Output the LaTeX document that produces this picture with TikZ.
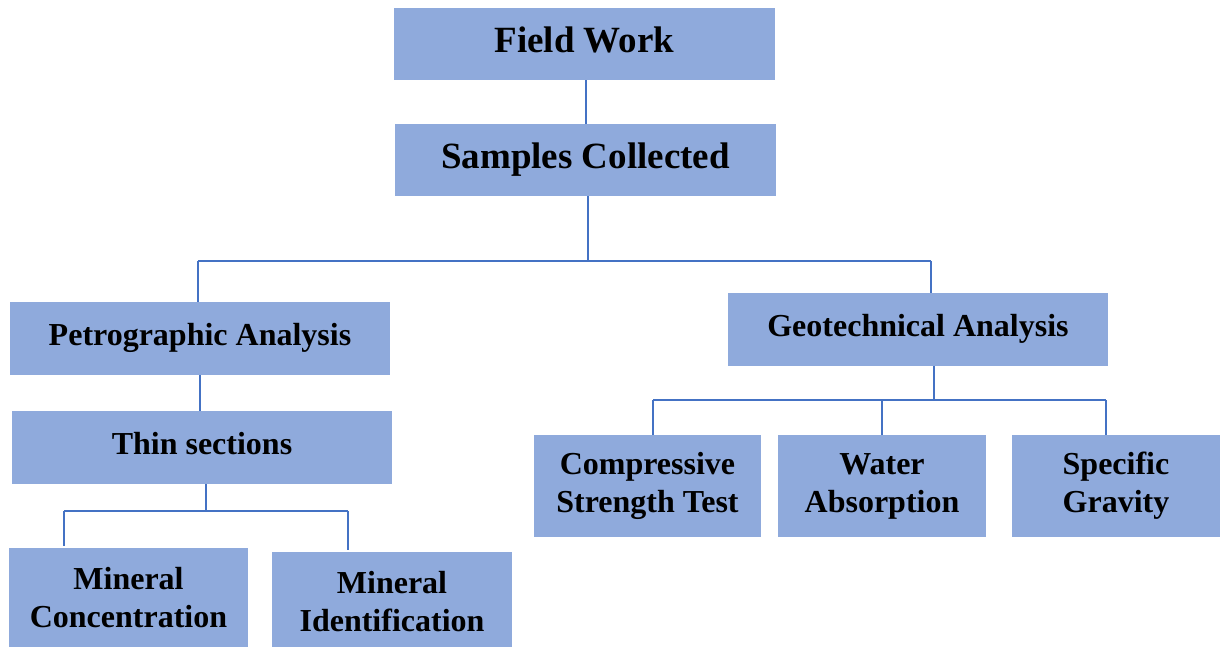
\documentclass[tikz,border=0pt]{standalone}
\usepackage{fontspec}
\setmainfont{Liberation Serif}
\definecolor{boxfill}{HTML}{8FAADC}
\definecolor{linec}{HTML}{4472C4}
\newcommand{\up}[1]{\raisebox{8pt}{#1}}
\begin{document}
\begin{tikzpicture}[x=1pt,y=-1pt,
  box/.style={fill=boxfill,inner sep=0pt,align=center,font=\fontsize{32}{38}\selectfont\bfseries},
  bigbox/.style={box,font=\fontsize{37}{44}\selectfont\bfseries},
  conn/.style={draw=linec,line width=1.5pt}]
\useasboundingbox (0,0) rectangle (1227,647);
% boxes
\node[bigbox,minimum width=381,minimum height=72] (fw) at (584.5,44) {\up{Field Work}};
\node[bigbox,minimum width=381,minimum height=72] (sc) at (585.5,160) {\up{Samples Collected}};
\node[box,minimum width=380,minimum height=73] (pa) at (200,338.5) {\up{Petrographic Analysis}};
\node[box,minimum width=380,minimum height=73] (ga) at (918,329.5) {\up{Geotechnical Analysis}};
\node[box,minimum width=380,minimum height=73] (ts) at (202,447.5) {\up{Thin sections}};
\fill[boxfill] (9,548) rectangle (248,647);
\node[box,align=center] (mc) at (128.5,597.5) {Mineral\\Concentration};
\fill[boxfill] (272,552) rectangle (512,647);
\node[box,align=center] (mi) at (392,601.5) {Mineral\\Identification};
\node[box,minimum width=227,minimum height=102] (cst) at (647.5,486) {Compressive\\Strength Test};
\node[box,minimum width=208,minimum height=102] (wa) at (882,486) {Water\\Absorption};
\node[box,minimum width=208,minimum height=102] (sg) at (1116,486) {Specific\\Gravity};
% junction coordinates
\coordinate (j0) at (586,100);
\coordinate (j1) at (588,261);
\coordinate (j1l) at (198,261);
\coordinate (j1r) at (931,261);
\coordinate (j2) at (206,511);
\coordinate (j2l) at (64,511);
\coordinate (j2r) at (348,511);
\coordinate (j3) at (934,400);
\coordinate (j3l) at (653,400);
\coordinate (j3m) at (882,400);
\coordinate (j3r) at (1106,400);
% connectors
\draw[conn] (fw.south -| j0) -- (sc.north -| j0);
\draw[conn] (sc.south -| j1) -- (j1);
\draw[conn] (j1l) -- (j1r);
\draw[conn] (j1l) -- (j1l |- pa.north);
\draw[conn] (j1r) -- (j1r |- ga.north);
\draw[conn] (pa.south) -- (ts.north -| pa.south);
\draw[conn] (ts.south -| j2) -- (j2);
\draw[conn] (j2l) -- (j2r);
\draw[conn] (j2l) -- (64,546);
\draw[conn] (j2r) -- (348,550);
\draw[conn] (ga.south -| j3) -- (j3);
\draw[conn] (j3l) -- (j3r);
\draw[conn] (j3l) -- (j3l |- cst.north);
\draw[conn] (j3m) -- (j3m |- wa.north);
\draw[conn] (j3r) -- (j3r |- sg.north);
\end{tikzpicture}
\end{document}
